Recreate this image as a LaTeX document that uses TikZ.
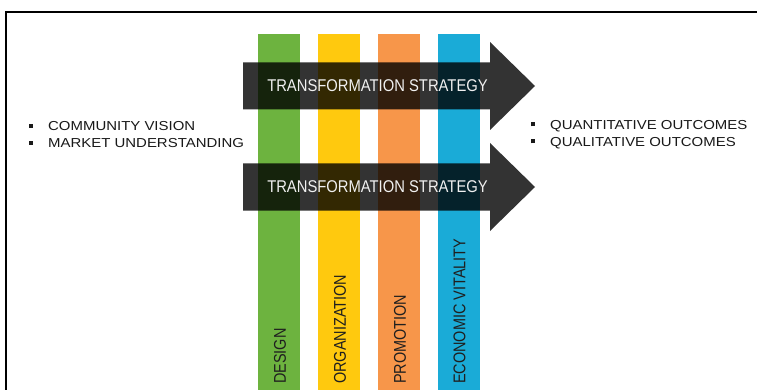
\documentclass[tikz,border=0pt]{standalone}
\usepackage{fontspec}
\setmainfont{Liberation Sans}
\usepackage{graphicx}
\usetikzlibrary{positioning}

\definecolor{designgreen}{HTML}{6DB33F}
\definecolor{orgyellow}{HTML}{FFC90E}
\definecolor{promoorange}{HTML}{F7964A}
\definecolor{econcyan}{HTML}{1AABD7}

\newcommand{\sqbul}{\rule[0.22em]{4pt}{4pt}\hspace{15pt}}
\newcommand{\squeeze}[2]{\scalebox{#1}[1]{#2}}

\tikzset{
  pillar/.style={minimum width=42pt, minimum height=356pt, inner sep=0pt, draw=none},
  pillarlabel/.style={rotate=90, anchor=west, inner sep=0pt, text=black!88,
    font=\fontsize{17}{17}\selectfont},
  stratarrow/.style={fill=black, fill opacity=0.8},
  stratlabel/.style={text=white!94!black, inner sep=0pt,
    font=\fontsize{17}{17}\selectfont},
  outlist/.style={align=left, anchor=west, inner sep=0pt, text=black!90,
    font=\fontsize{13}{17}\selectfont}
}

\begin{document}
\begin{tikzpicture}[x=1pt,y=-1pt]
  \useasboundingbox (0,0) rectangle (757,390);
  \clip (0,0) rectangle (757,390);
  \fill[white] (0,0) rectangle (757,390);
  % Frame
  \draw[line width=2pt] (6,400) -- (6,12.5) -- (770,12.5);
  % Four pillars
  \node[pillar, fill=designgreen] (design) at (279,212) {};
  \node[pillar, fill=orgyellow] (organization) at (339,212) {};
  \node[pillar, fill=promoorange] (promotion) at (399,212) {};
  \node[pillar, fill=econcyan] (economic) at (458.5,212) {};
  \node[pillarlabel] (designlbl) at (280,384) {\squeeze{0.85}{DESIGN}};
  \node[pillarlabel] (organizationlbl) at (340,384) {\squeeze{0.85}{ORGANIZATION}};
  \node[pillarlabel] (promotionlbl) at (400,384) {\squeeze{0.85}{PROMOTION}};
  \node[pillarlabel] (economiclbl) at (459.5,384) {\squeeze{0.85}{ECONOMIC VITALITY}};
  % Strategy arrows
  \foreach \yc/\nm in {86/upperstrat,187/lowerstrat} {
    \fill[stratarrow] (243,{\yc-23.5}) -- (490,{\yc-23.5}) -- (490,{\yc-44})
      -- (535,\yc) -- (490,{\yc+44}) -- (490,{\yc+23.5}) -- (243,{\yc+23.5}) -- cycle;
    \node[stratlabel] (\nm) at (377.5,\yc) {\squeeze{0.87}{TRANSFORMATION STRATEGY}};
  }
  % Inputs and outcomes
  \node[outlist] (inputs) at (29,134.5)
    {\sqbul\squeeze{1.15}{COMMUNITY VISION}\\ \sqbul\squeeze{1.15}{MARKET UNDERSTANDING}};
  \node[outlist] (outcomes) at (531,134.5)
    {\sqbul\squeeze{1.15}{QUANTITATIVE OUTCOMES}\\ \sqbul\squeeze{1.15}{QUALITATIVE OUTCOMES}};
\end{tikzpicture}
\end{document}
